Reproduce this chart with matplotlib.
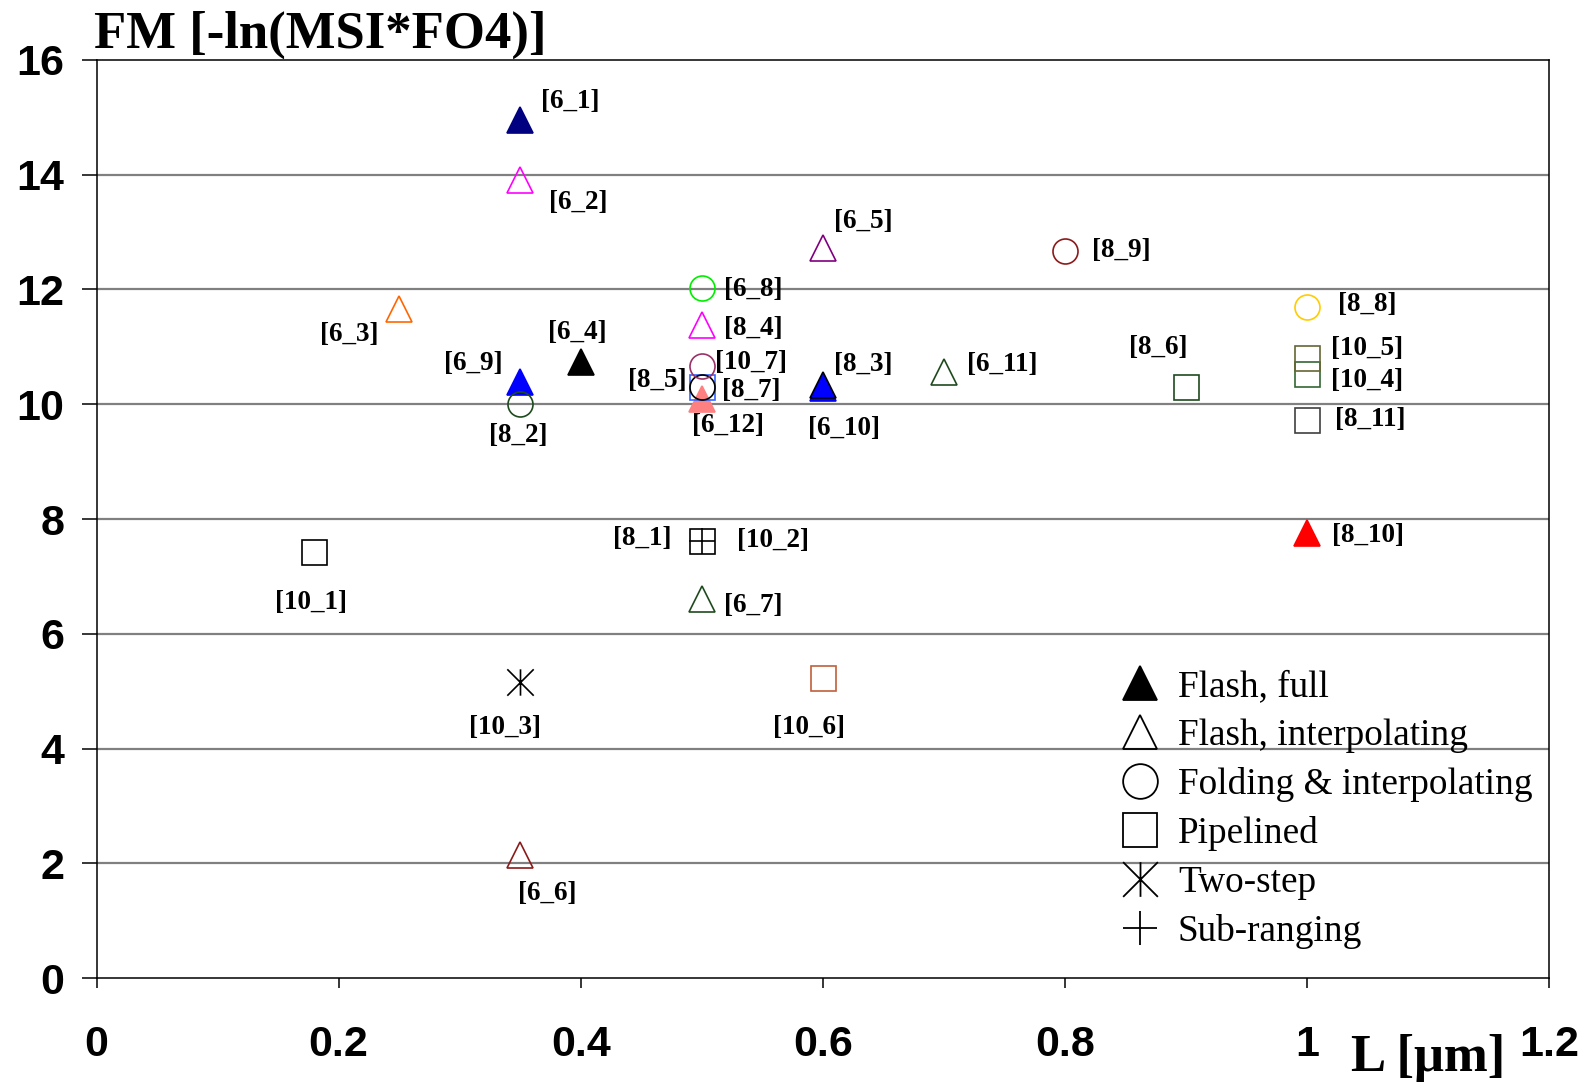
import matplotlib
matplotlib.use("Agg")
import matplotlib.pyplot as plt
from matplotlib.lines import Line2D
from matplotlib.path import Path

# ---------------- data ----------------
labels = ['[6_1]', '[6_2]', '[6_3]', '[6_4]', '[6_5]', '[6_6]', '[6_7]', '[6_8]',
          '[6_9]', '[6_10]', '[6_11]', '[6_12]', '[8_1]', '[8_2]', '[8_3]', '[8_4]',
          '[8_5]', '[8_6]', '[8_7]', '[8_8]', '[8_9]', '[8_10]', '[8_11]', '[10_1]',
          '[10_2]', '[10_3]', '[10_4]', '[10_5]', '[10_6]', '[10_7]']
L_um = [0.35, 0.35, 0.25, 0.40, 0.60, 0.35, 0.50, 0.50,
        0.35, 0.60, 0.70, 0.50, 0.50, 0.35, 0.60, 0.50,
        0.50, 0.90, 0.50, 1.00, 0.80, 1.00, 1.00, 0.18,
        0.50, 0.35, 1.00, 1.00, 0.60, 0.50]
FM = [14.95, 13.90, 11.66, 10.73, 12.73, 2.14, 6.60, 12.02,
      10.39, 10.28, 10.57, 10.10, 7.61, 10.00, 10.33, 11.38,
      10.30, 10.30, 10.30, 11.70, 12.67, 7.75, 9.72, 7.43,
      7.61, 5.17, 10.53, 10.81, 5.24, 10.67]
arch = ['ff', 'fi', 'fi', 'ff', 'fi', 'fi', 'fi', 'fo',
        'ff', 'ff', 'fi', 'ff', 'sr', 'fo', 'ff', 'fi',
        'pl', 'pl', 'fo', 'fo', 'fo', 'ff', 'pl', 'pl',
        'pl', 'ts', 'pl', 'pl', 'pl', 'fo']
colors = ['#000080', '#FF00FF', '#FF6600', '#000000', '#800080', '#8B1A1A', '#1F4A1F', '#00EE00',
          '#0000FF', '#0000FF', '#1F4A1F', '#FF8080', '#000000', '#1F4A1F', '#0000FF', '#FF00FF',
          '#3366FF', '#1F4A1F', '#000000', '#FFCC00', '#8B1A1A', '#FF0000', '#404040', '#000000',
          '#000000', '#000000', '#336633', '#666633', '#C0603A', '#993366']
arch_names = ['Flash, full', 'Flash, interpolating', 'Folding & interpolating',
              'Pipelined', 'Two-step', 'Sub-ranging']
arch_keys = ['ff', 'fi', 'fo', 'pl', 'ts', 'sr']
x_ticks = [0, 0.2, 0.4, 0.6, 0.8, 1.0, 1.2]
x_ticklabels = ['0', '0.2', '0.4', '0.6', '0.8', '1', '1.2']
y_ticks = [0, 2, 4, 6, 8, 10, 12, 14, 16]

# label offsets (pixels, right / up) relative to marker
label_dx = [49, 57, -49, -3, 40, 27, 51, 51, -46, 21, 57, 26, -59, -2, 40, 51,
            -44, -27, 49, 59, 55, 60, 62, -3, 70, -15, 59, 59, -14, 48]
label_dy = [18, -22, -25, 29, 26, -37, -6, -1, 18, -40, 7, -27, 3, -31, 21, -3,
            6, 39, -3, 2, 1, -2, 1, -50, 1, -45, -7, 9, -49, 3]

# ---------------- style ----------------
ast = Path([(-1, -1), (1, 1), (-1, 1), (1, -1), (0, -1.0), (0, 1.0)],
           [Path.MOVETO, Path.LINETO, Path.MOVETO, Path.LINETO, Path.MOVETO, Path.LINETO])
mk = {'ff': '^', 'fi': '^', 'fo': 'o', 'pl': 's', 'ts': ast, 'sr': '+'}
filled = {'ff': True, 'fi': False, 'fo': False, 'pl': False, 'ts': False, 'sr': False}
msize = {'ff': 19, 'fi': 19, 'fo': 18, 'pl': 18, 'ts': 19, 'sr': 19}
order = {'ff': 1, 'pl': 2, 'fi': 3, 'fo': 4, 'ts': 4, 'sr': 5}

W, H, DPI = 1593, 1083, 100
fig = plt.figure(figsize=(W / DPI, H / DPI), dpi=DPI)
ax = fig.add_axes([0.0606, 0.0967, 0.9726 - 0.0606, 0.9447 - 0.0967])
ax.set_xlim(0, 1.2)
ax.set_ylim(0, 16)

for y in y_ticks[1:-1]:
    ax.axhline(y, color='#808080', lw=1.6, zorder=0)

for i, lab in enumerate(labels):
    a = arch[i]
    c = colors[i]
    ec = '#000000' if lab == '[8_3]' else c
    ax.plot([L_um[i]], [FM[i]], linestyle='none', marker=mk[a], markersize=msize[a],
            markerfacecolor=(c if filled[a] else 'none'), markeredgecolor=ec,
            markeredgewidth=1.2, zorder=2 + order[a] * 0.1)
    ax.annotate(lab, (L_um[i], FM[i]), xytext=(label_dx[i] * 1.016, label_dy[i] * 1.016),
                textcoords='offset pixels', ha='center', va='center',
                fontfamily='Liberation Serif', fontweight='bold', fontsize=19.5, zorder=5)

ax.set_xticks(x_ticks)
ax.set_xticklabels(x_ticklabels)
ax.set_yticks(y_ticks)
for t in ax.get_xticklabels() + ax.get_yticklabels():
    t.set_fontfamily('Liberation Sans')
    t.set_fontweight('bold')
    t.set_fontsize(31)
ax.tick_params(axis='x', direction='out', length=7, width=1.1, pad=27)
ax.tick_params(axis='y', direction='out', length=11, width=1.1, pad=12)
for s in ax.spines.values():
    s.set_linewidth(1.1)
    s.set_color('black')

# axis titles
fig.text(93.5 / W, 1 - 48 / H, 'FM [-ln(MSI*FO4)]', family='Liberation Serif',
         fontweight='bold', fontsize=38, ha='left', va='baseline')
fig.text(1351 / W, 1 - 1071 / H, 'L [μm]', family='Liberation Serif',
         fontweight='bold', fontsize=38, ha='left', va='baseline')

# legend
handles = []
for k, name in zip(arch_keys, arch_names):
    handles.append(Line2D([], [], linestyle='none', marker=mk[k], markersize=25,
                          markerfacecolor=('black' if filled[k] else 'none'),
                          markeredgecolor='black', markeredgewidth=1.3, label=name))
leg = fig.legend(handles=handles, loc='upper left', bbox_to_anchor=(1121 / W, 1 - 670 / H),
                 frameon=False, borderpad=0, borderaxespad=0, handlelength=1.0,
                 handletextpad=0.53, labelspacing=0.38,
                 prop={'family': 'Liberation Serif', 'size': 26.8})

fig.savefig('out.png', dpi=DPI)
